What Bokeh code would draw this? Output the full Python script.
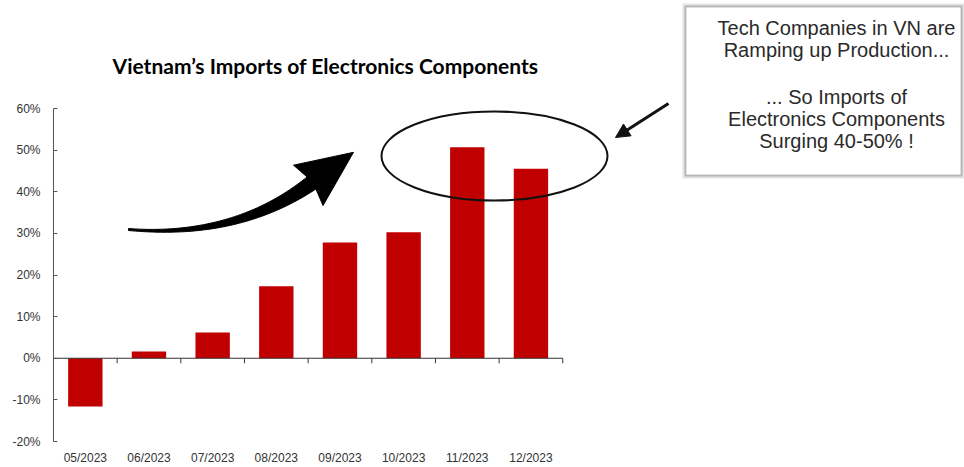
import numpy as np
from bokeh.plotting import figure
from bokeh.models import (Range1d, FixedTicker, PrintfTickFormatter, Label,
                          BoxAnnotation, Arrow, NormalHead)
from bokeh.embed import file_html
from bokeh.resources import INLINE

# ---------------- data ----------------
months = ["05/2023", "06/2023", "07/2023", "08/2023",
          "09/2023", "10/2023", "11/2023", "12/2023"]
import_growth = [-11.6, 1.6, 6.2, 17.3, 27.8, 30.3, 50.7, 45.5]
y_ticks = [-20, -10, 0, 10, 20, 30, 40, 50, 60]
title_text = "Vietnam\u2019s Imports of Electronics Components"
callout_lines = ["Tech Companies in VN are", "Ramping up Production...",
                 "... So Imports of", "Electronics Components",
                 "Surging 40-50% !"]

# ---------------- layout (pixels) ----------------
W, H = 964, 467
LEFT, BOTTOM = 53, 441          # frame left edge / frame bottom edge (px)
CAT_PX = 63.66                  # px per category
PCT_PX = 4.1625                 # px per percentage point
ZERO_PY = BOTTOM - 20 * PCT_PX  # pixel row of 0%

def X(px):
    return -0.5 + (px - LEFT) / CAT_PX

def Y(py):
    return (ZERO_PY - py) / PCT_PX

BAR_COLOR = "#C00000"
INK = "#111111"

p = figure(width=W, height=H, output_backend="svg", toolbar_location=None,
           x_range=Range1d(X(LEFT), X(W)), y_range=Range1d(Y(BOTTOM), Y(0)),
           min_border_left=LEFT, min_border_right=0, min_border_top=0,
           min_border_bottom=H - BOTTOM)
p.outline_line_color = None
p.grid.visible = False
p.background_fill_color = "white"
p.border_fill_color = "white"

idx = list(range(len(months)))

# y axis
ya = p.yaxis[0]
ya.ticker = FixedTicker(ticks=y_ticks)
ya.formatter = PrintfTickFormatter(format="%d%%")
ya.bounds = (min(y_ticks), max(y_ticks))
ya.axis_line_color = "#555555"
ya.major_tick_line_color = "#555555"
ya.major_tick_in = 4
ya.major_tick_out = 0
ya.minor_tick_line_color = None
ya.minor_tick_in = 0
ya.minor_tick_out = 0
ya.major_label_standoff = 13
ya.major_label_text_font = "Liberation Sans"
ya.major_label_text_font_size = "12px"
ya.major_label_text_color = "#333333"

# x axis (labels only)
xa = p.xaxis[0]
xa.ticker = FixedTicker(ticks=idx)
xa.major_label_overrides = {i: m for i, m in zip(idx, months)}
xa.axis_line_color = None
xa.major_tick_line_color = None
xa.minor_tick_line_color = None
xa.major_tick_in = 0
xa.major_tick_out = 0
xa.minor_tick_in = 0
xa.minor_tick_out = 0
xa.axis_label_standoff = 0
xa.major_label_standoff = 9
xa.major_label_text_font = "Liberation Sans"
xa.major_label_text_font_size = "12px"
xa.major_label_text_color = "#333333"

# bars
p.vbar(x=idx, top=import_growth, bottom=0, width=0.54,
       fill_color=BAR_COLOR, line_color=None)

# zero baseline with category-boundary ticks
bounds = [i + 0.5 for i in idx]
p.segment(x0=[-0.5], y0=[0], x1=[len(months) - 0.5], y1=[0],
          line_color="#333333", line_width=1.2)
p.segment(x0=bounds, y0=[0] * len(bounds), x1=bounds,
          y1=[-5 / PCT_PX] * len(bounds), line_color="#333333", line_width=1)

# ellipse highlighting last two bars
p.ellipse(x=[X(494)], y=[Y(155.5)], width=[226], height=[89],
          width_units="screen", height_units="screen",
          fill_color=None, line_color=INK, line_width=2)

# big curved arrow (tapered body + triangular head), built in px space
P0 = np.array([128.0, 229.0])
P1 = np.array([235.0, 238.0])
P2 = np.array([311.0, 182.5])
s = np.linspace(0, 1, 60)
B = ((1 - s) ** 2)[:, None] * P0 + (2 * s * (1 - s))[:, None] * P1 + (s ** 2)[:, None] * P2
D = (2 * (1 - s))[:, None] * (P1 - P0) + (2 * s)[:, None] * (P2 - P1)
T = D / np.linalg.norm(D, axis=1)[:, None]
N = np.stack([-T[:, 1], T[:, 0]], axis=1)
hw = 1.0 + 6.5 * s ** 1.4
sideA = B + hw[:, None] * N
sideB = B - hw[:, None] * N
tE, nE = T[-1], N[-1]
cornerA = P2 + 25 * nE - 4 * tE
cornerB = P2 - 25 * nE - 4 * tE
tip = P2 + 52 * tE
poly = np.vstack([sideA, cornerA[None], tip[None], cornerB[None], sideB[::-1]])
p.patch(x=[X(v) for v in poly[:, 0]], y=[Y(v) for v in poly[:, 1]],
        fill_color="black", line_color="black", line_width=1)

# title
p.add_layout(Label(x=X(325), y=Y(65), text=title_text, text_align="center",
                   text_baseline="middle", text_font="Lato",
                   text_font_style="bold", text_font_size="21px",
                   text_color="black"))

# callout box with shadow
p.add_layout(BoxAnnotation(left=X(682), right=X(964), top=Y(3), bottom=Y(178),
                           fill_color="#e4e4e4", fill_alpha=1, line_color=None))
p.add_layout(BoxAnnotation(left=X(685), right=X(961), top=Y(6), bottom=Y(175),
                           fill_color="white", fill_alpha=1,
                           line_color="#333333", line_width=2))
for txt, py in zip(callout_lines, [27, 49, 96, 118, 140]):
    p.add_layout(Label(x=X(836), y=Y(py), text=txt, text_align="center",
                       text_baseline="middle", text_font="Liberation Sans",
                       text_font_size="20px", text_color="#2a2a2a"))

# small straight arrow pointing at the ellipse
p.add_layout(Arrow(end=NormalHead(size=14, fill_color=INK, line_color=INK),
                   x_start=X(668), y_start=Y(103), x_end=X(615), y_end=Y(137),
                   line_color=INK, line_width=3))

open("out.html", "w").write(file_html(p, INLINE))
